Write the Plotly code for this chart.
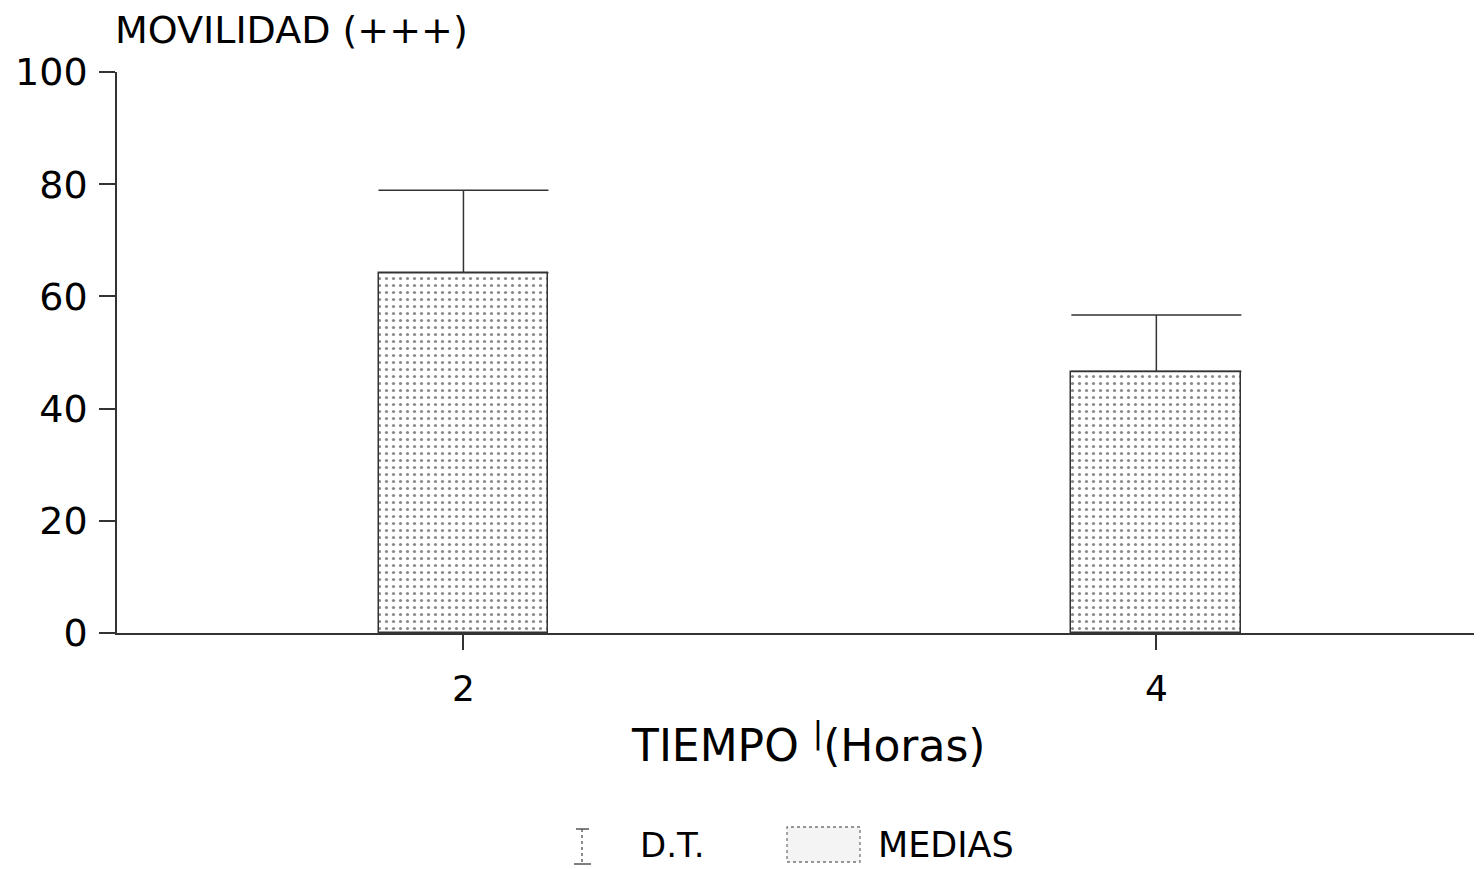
import plotly.graph_objects as go

# Data
tiempo = [2, 4]                 # TIEMPO (Horas)
medias = [64.2, 46.6]           # MEDIAS
dt = [14.7, 10.1]               # D.T. (upper only)
y_ticks = [0, 20, 40, 60, 80, 100]

FONT = "DejaVu Sans, Arial, sans-serif"
INK = "#000000"
LINE = "#333333"

OFF = 8                          # page body margin
W, H = 1482 - OFF, 869 - OFF
L, R, T, B = 117 - OFF, 0, 72 - OFF, 869 - 633
PW, PH = W - L - R, H - T - B


def px(x):
    return (x - OFF - L) / PW


def py(y):
    return (H - B - (y - OFF)) / PH


fig = go.Figure()

fig.add_trace(go.Bar(
    x=tiempo, y=medias, width=0.49, name="MEDIAS",
    marker=dict(
        color="white",
        line=dict(color=LINE, width=1.5),
        pattern=dict(shape=".", size=7, solidity=0.16, fgcolor="#8a8a8a",
                     bgcolor="white", fillmode="replace"),
    ),
    error_y=dict(type="data", symmetric=False, array=dt, arrayminus=[0, 0],
                 color=LINE, thickness=1.5, width=85),
    showlegend=False,
))

shapes = [
    # legend: D.T. icon (I-beam)
    dict(type="line", xref="paper", yref="paper", x0=px(582), x1=px(582),
         y0=py(829), y1=py(864), line=dict(color="#666666", width=1.5, dash="dot")),
    dict(type="line", xref="paper", yref="paper", x0=px(576), x1=px(589),
         y0=py(829), y1=py(829), line=dict(color="#555555", width=1.5)),
    dict(type="line", xref="paper", yref="paper", x0=px(574), x1=px(591),
         y0=py(864), y1=py(864), line=dict(color="#555555", width=1.5)),
    # legend: MEDIAS swatch
    dict(type="rect", xref="paper", yref="paper", x0=px(787), x1=px(860),
         y0=py(862), y1=py(827), fillcolor="#f4f4f4",
         line=dict(color="#777777", width=1.3, dash="dot")),
]

fig.update_layout(
    width=W, height=H,
    paper_bgcolor="white", plot_bgcolor="white",
    margin=dict(l=L, r=R, t=T, b=B, autoexpand=False),
    font=dict(family=FONT, color=INK),
    bargap=0,
    showlegend=False,
    xaxis=dict(
        range=[1.0, 4.94], tickvals=tiempo, ticktext=[str(t) for t in tiempo],
        showgrid=False, zeroline=False, showline=True, linecolor=LINE,
        linewidth=1.5, ticks="outside", ticklen=15, tickcolor=LINE,
        tickwidth=1.5, tickfont=dict(size=36, family=FONT, color=INK),
        ticklabelstandoff=8, automargin=False,
    ),
    yaxis=dict(
        range=[0, 100], tickvals=y_ticks, showgrid=False, zeroline=False,
        showline=True, linecolor=LINE, linewidth=1.5, ticks="outside",
        ticklen=16, tickcolor=LINE, tickwidth=1.5,
        tickfont=dict(size=38, family=FONT, color=INK), ticklabelstandoff=4,
        automargin=False,
    ),
    shapes=shapes,
    annotations=[
        dict(text="MOVILIDAD (+++)", xref="paper", yref="paper", x=px(113),
             y=py(30), xanchor="left", yanchor="middle", showarrow=False,
             font=dict(size=38, family=FONT, color=INK)),
        dict(text="TIEMPO <sup>|</sup>(Horas)", xref="paper", yref="paper",
             x=px(808), y=py(742), xanchor="center", yanchor="middle",
             showarrow=False, font=dict(size=44, family=FONT, color=INK)),
        dict(text="D.T.", xref="paper", yref="paper", x=px(638),
             y=py(867), xanchor="left", yanchor="bottom", showarrow=False,
             font=dict(size=34, family=FONT, color=INK)),
        dict(text="MEDIAS", xref="paper", yref="paper", x=px(876),
             y=py(867), xanchor="left", yanchor="bottom", showarrow=False,
             font=dict(size=35, family=FONT, color=INK)),
    ],
)

fig.write_html("out.html")
